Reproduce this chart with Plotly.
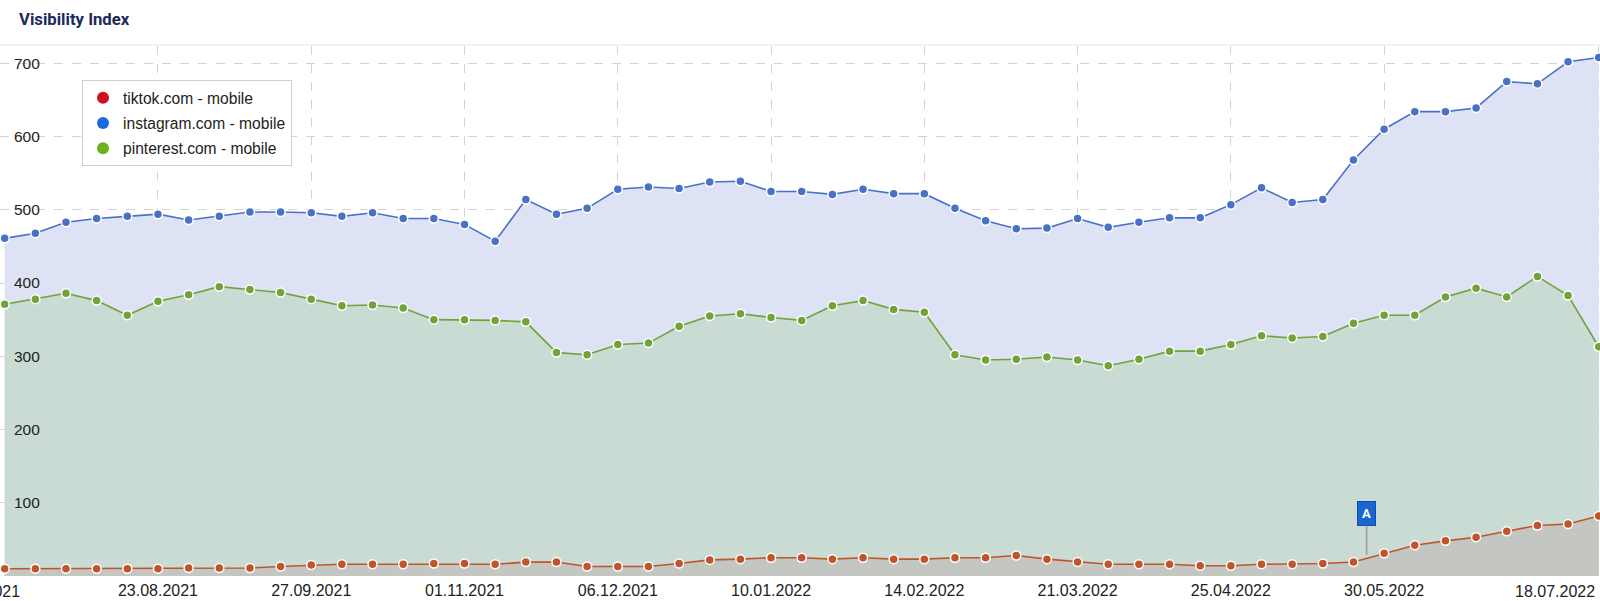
import pandas as pd
import plotly.graph_objects as go

# Weekly dates (19.07.2021 .. 18.07.2022)
dates = pd.date_range("2021-07-19", periods=53, freq="7D")

instagram = [461, 468, 483, 488, 491, 494, 486, 491, 497, 497, 496, 491, 496,
             488, 488, 480, 457, 514, 494, 502, 528, 531, 529, 538, 539, 525,
             525, 521, 528, 522, 522, 502, 485, 474, 475, 488, 476, 483, 489,
             489, 507, 530, 510, 514, 568, 610, 634, 634, 639, 675, 672, 702, 708]

pinterest = [371, 378, 386, 376, 356, 375, 384, 395, 391, 387, 378, 369, 370,
             366, 350, 350, 349, 347, 305, 302, 316, 318, 341, 355, 358, 353,
             349, 369, 376, 364, 360, 302, 295, 296, 299, 295, 287, 296, 307,
             307, 316, 328, 325, 327, 345, 356, 356, 381, 393, 381, 409, 383, 313]

tiktok = [10, 10, 10, 10, 10, 10, 11, 11, 11, 13, 15, 16, 16,
          16, 17, 17, 16, 19, 19, 13, 13, 13, 17, 22, 23, 25,
          25, 23, 25, 23, 23, 25, 25, 28, 23, 19, 16, 16, 16,
          14, 14, 16, 16, 17, 19, 31, 42, 48, 53, 61, 69, 71, 82]

series_names = ["tiktok.com - mobile", "instagram.com - mobile", "pinterest.com - mobile"]
legend_colors = ["#d0101f", "#1b6bd8", "#6eb01e"]

tick_dates = ["2021-08-23", "2021-09-27", "2021-11-01", "2021-12-06", "2022-01-10",
              "2022-02-14", "2022-03-21", "2022-04-25", "2022-05-30", "2022-07-18"]
tick_text = ["23.08.2021", "27.09.2021", "01.11.2021", "06.12.2021", "10.01.2022",
             "14.02.2022", "21.03.2022", "25.04.2022", "30.05.2022", ""]
y_ticks = [100, 200, 300, 400, 500, 600, 700]

event_date = "2022-05-26"
event_label = "A"

fig = go.Figure()

styles = [
    ("instagram", instagram, "#4a72c4", "#dde3f5"),
    ("pinterest", pinterest, "#71a33b", "#c9dbd2"),
    ("tiktok", tiktok, "#c0552c", "#c4c6c1"),
]
for name, vals, lc, fc in styles:
    fig.add_trace(go.Scatter(
        x=dates, y=vals, mode="lines+markers", fill="tozeroy", fillcolor=fc,
        line=dict(color=lc, width=1.6),
        marker=dict(size=9, color=lc, line=dict(color="white", width=1.5)),
        showlegend=False, hoverinfo="x+y", name=name,
    ))

for i, (nm, col) in enumerate(zip(series_names, legend_colors)):
    fig.add_trace(go.Scatter(
        x=[None], y=[None], mode="markers", name=nm, legendgroup=nm,
        marker=dict(size=12, color=col),
    ))

fig.add_annotation(
    x=event_date, y=29, xref="x", yref="y", text="<b>" + event_label + "</b>",
    showarrow=True, arrowhead=0, arrowwidth=1.5, arrowcolor="#9a9a9a",
    ax=0, ay=-41, standoff=0,
    bgcolor="#1a66d0", bordercolor="#0e4fa8", borderwidth=1, borderpad=4,
    font=dict(color="white", size=13, family="Roboto"),
)

fig.add_annotation(x=0.0135, y=-0.03, xref="paper", yref="paper", text="19.07.2021",
                   showarrow=False, xanchor="right", yanchor="middle",
                   font=dict(size=16, color="#222", family="Liberation Sans, Arial"))
fig.add_annotation(x=0.998, y=-0.03, xref="paper", yref="paper", text="18.07.2022",
                   showarrow=False, xanchor="right", yanchor="middle",
                   font=dict(size=16, color="#222", family="Liberation Sans, Arial"))

fig.add_shape(type="line", xref="paper", yref="paper", x0=-0.01, x1=1.01, y0=1.002, y1=1.002,
              line=dict(color="#e6e6e6", width=1))

fig.update_layout(
    width=1600, height=601,
    margin=dict(l=0, r=0, t=46, b=25),
    paper_bgcolor="white", plot_bgcolor="white",
    title=dict(text="<b>Visibility Index</b>", x=19/1600, xanchor="left", xref="container",
               y=1 - 19/601, yanchor="middle", yref="container",
               font=dict(size=16.7, color="#1b2a57", family="Roboto")),
    font=dict(family="Liberation Sans, Arial", size=15, color="#222"),
    legend=dict(x=82/1600, y=(576-80)/530, xanchor="left", yanchor="top",
                bgcolor="white", bordercolor="#cfcfcf", borderwidth=1,
                font=dict(size=15.6, color="#222"), tracegroupgap=2,
                itemclick=False),
    showlegend=True,
    hovermode="closest",
)

fig.update_xaxes(
    range=[pd.Timestamp("2021-07-19") - pd.Timedelta(hours=25.7),
           pd.Timestamp("2022-07-18") + pd.Timedelta(hours=7)],
    tickvals=tick_dates, ticktext=tick_text,
    showgrid=True, gridcolor="#d3d3d3", griddash="dash", gridwidth=1,
    showline=False, zeroline=False, ticks="",
    tickfont=dict(size=16, color="#222"), ticklabelstandoff=3,
)
fig.update_yaxes(
    range=[0, 723.6], tickvals=y_ticks,
    showgrid=True, gridcolor="#d3d3d3", griddash="dash", gridwidth=1,
    zeroline=False, showline=False, ticks="",
    ticklabelposition="inside", ticklabelstandoff=11,
    tickfont=dict(size=15.5, color="#222"),
)

fig.write_html("out.html", config={"displayModeBar": False},
               post_script="document.body.style.margin='0';document.body.style.overflow='hidden';")
